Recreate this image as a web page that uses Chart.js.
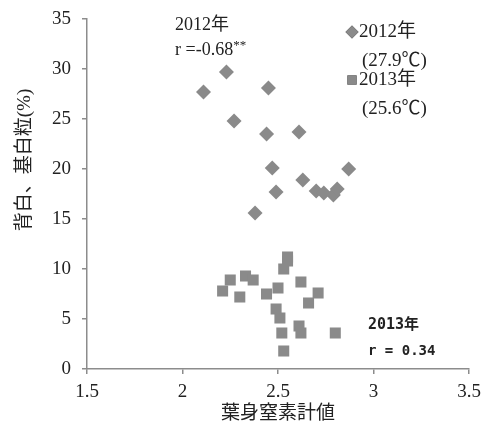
<!DOCTYPE html>
<html>
<head>
<meta charset="utf-8">
<script src="https://cdn.jsdelivr.net/npm/chart.js@4.4.0/dist/chart.umd.min.js"></script>
<style>
  html, body { margin: 0; padding: 0; background: #fff; }
  #wrap { width: 481px; height: 426px; }
</style>
</head>
<body>
<div id="wrap"><canvas id="c" width="481" height="426"></canvas></div>
<script>
// Leaf-blade nitrogen meter reading vs. chalky (back/base white) kernels
const leafN2012 = [2.11, 2.23, 2.45, 2.27, 2.44, 2.61, 2.47, 2.87, 2.63, 2.49, 2.70, 2.74, 2.79, 2.81, 2.38];
const chalky2012 = [27.7, 29.7, 28.1, 24.8, 23.5, 23.7, 20.1, 20.0, 18.9, 17.7, 17.8, 17.6, 17.4, 18.0, 15.6];

const leafN2013 = [2.21, 2.25, 2.30, 2.33, 2.37, 2.44, 2.50, 2.49, 2.51, 2.52, 2.53, 2.53, 2.55, 2.55, 2.62, 2.66, 2.71, 2.61, 2.62, 2.80];
const chalky2013 = [7.8, 8.9, 7.2, 9.3, 8.9, 7.5, 8.1, 6.0, 5.1, 3.6, 1.8, 10.0, 11.2, 10.8, 8.7, 6.6, 7.6, 4.3, 3.6, 3.6];

const seriesNames = ['2012年', '2013年'];
const seriesTemps = ['(27.9℃)', '(25.6℃)'];
const xTicks = [1.5, 2, 2.5, 3, 3.5];
const yTicks = [0, 5, 10, 15, 20, 25, 30, 35];
const xTitle = '葉身窒素計値';
const yTitle = '背白、基白粒(%)';
const note2012 = ['2012年', 'r =-0.68', '**'];
const note2013 = ['2013年', 'r = 0.34'];

const SERIF = "'Liberation Serif', 'Noto Sans CJK JP', serif";
const MONO = "'DejaVu Sans Mono', 'Noto Sans CJK JP', monospace";
const GRAY = '#8a8a8a';
const AXIS = '#8c8c8c';
const INK = '#222';

const toPoints = (xs, ys) => xs.map((x, i) => ({ x, y: ys[i] }));

// Draws the y title, the legend block and the two correlation notes
const overlay = {
  id: 'overlay',
  afterDraw(chart) {
    const ctx = chart.ctx;
    const a = chart.chartArea;
    ctx.save();
    ctx.fillStyle = INK;
    ctx.textBaseline = 'middle';

    // y axis title, rotated
    ctx.save();
    ctx.translate(25, 160);
    ctx.rotate(-Math.PI / 2);
    ctx.textAlign = 'center';
    ctx.font = '19px ' + SERIF;
    ctx.fillText(yTitle, 0, 0);
    ctx.restore();

    // 2012 note
    ctx.textAlign = 'left';
    ctx.font = '18px ' + SERIF;
    ctx.fillText(note2012[0], a.left + 88, a.top + 6);
    ctx.fillText(note2012[1], a.left + 88, a.top + 31);
    const w = ctx.measureText(note2012[1]).width;
    ctx.font = '13px ' + SERIF;
    ctx.fillText(note2012[2], a.left + 88 + w, a.top + 27);

    // legend
    const lx = a.left + 265;
    const rows = [a.top + 13, a.top + 61];
    const styles = ['rectRot', 'rect'];
    rows.forEach((y, i) => {
      Chart.helpers.drawPoint(ctx, { pointStyle: styles[i], radius: 6.5, borderWidth: 0 }, lx, y);
      ctx.fillStyle = GRAY;
      ctx.fill();
      ctx.fillStyle = INK;
      ctx.font = '19px ' + SERIF;
      ctx.fillText(seriesNames[i], lx + 7, y);
      ctx.fillText(seriesTemps[i], lx + 10, y + 29);
    });

    // 2013 note
    ctx.font = 'bold 15px ' + MONO;
    ctx.fillText(note2013[0], a.left + 281, a.top + 306);
    ctx.font = 'bold 14px ' + MONO;
    ctx.fillText(note2013[1], a.left + 281, a.top + 332);
    ctx.restore();
  }
};

new Chart(document.getElementById('c'), {
  type: 'scatter',
  data: {
    datasets: [
      {
        label: seriesNames[0],
        data: toPoints(leafN2012, chalky2012),
        pointStyle: 'rectRot',
        pointRadius: 7.5,
        pointHoverRadius: 7.5,
        backgroundColor: GRAY,
        borderColor: GRAY,
        borderWidth: 0
      },
      {
        label: seriesNames[1],
        data: toPoints(leafN2013, chalky2013),
        pointStyle: 'rect',
        pointRadius: 7.8,
        pointHoverRadius: 7.8,
        backgroundColor: GRAY,
        borderColor: GRAY,
        borderWidth: 0
      }
    ]
  },
  options: {
    responsive: false,
    animation: false,
    events: [],
    layout: { padding: { left: 0, right: 12, top: 19, bottom: 0 } },
    plugins: { legend: { display: false }, tooltip: { enabled: false } },
    scales: {
      x: {
        type: 'linear',
        min: xTicks[0],
        max: xTicks[xTicks.length - 1],
        afterBuildTicks(s) { s.ticks = xTicks.map(v => ({ value: v })); },
        afterFit(s) { s.height = 57; s.paddingLeft = 0; s.paddingRight = 0; },
        border: { color: AXIS, width: 1.5 },
        grid: { drawOnChartArea: false, drawTicks: true, tickLength: 5, color: AXIS, lineWidth: 1.5 },
        ticks: { color: INK, font: { family: SERIF, size: 19 }, padding: 7, maxRotation: 0, callback: v => String(v) },
        title: { display: true, text: xTitle, color: INK, font: { family: SERIF, size: 19 }, padding: { top: 0, bottom: 1 } }
      },
      y: {
        type: 'linear',
        min: yTicks[0],
        max: yTicks[yTicks.length - 1],
        afterBuildTicks(s) { s.ticks = yTicks.map(v => ({ value: v })); },
        afterFit(s) { s.width = 87; s.paddingTop = 0; s.paddingBottom = 0; },
        border: { color: AXIS, width: 1.5 },
        grid: { drawOnChartArea: false, drawTicks: true, tickLength: 5, color: AXIS, lineWidth: 1.5 },
        ticks: { color: INK, font: { family: SERIF, size: 19 }, padding: 11, callback: v => String(v) }
      }
    }
  },
  plugins: [overlay]
});
</script>
</body>
</html>
